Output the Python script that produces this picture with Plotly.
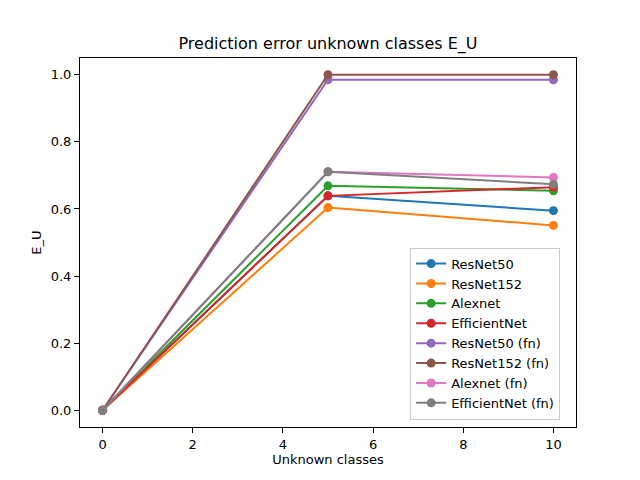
import plotly.graph_objects as go

x_vals = [0, 5, 10]

names = [
    "ResNet50",
    "ResNet152",
    "Alexnet",
    "EfficientNet",
    "ResNet50 (fn)",
    "ResNet152 (fn)",
    "Alexnet (fn)",
    "EfficientNet (fn)",
]

resnet50 = [0.0, 0.639, 0.595]
resnet152 = [0.0, 0.604, 0.551]
alexnet = [0.0, 0.669, 0.654]
efficientnet = [0.0, 0.639, 0.665]
resnet50_fn = [0.0, 0.985, 0.985]
resnet152_fn = [0.0, 1.0, 1.0]
alexnet_fn = [0.0, 0.711, 0.694]
efficientnet_fn = [0.0, 0.711, 0.674]

series = [
    resnet50,
    resnet152,
    alexnet,
    efficientnet,
    resnet50_fn,
    resnet152_fn,
    alexnet_fn,
    efficientnet_fn,
]

colors = [
    "#1f77b4",
    "#ff7f0e",
    "#2ca02c",
    "#d62728",
    "#9467bd",
    "#8c564b",
    "#e377c2",
    "#7f7f7f",
]

fig = go.Figure()
for name, y, c in zip(names, series, colors):
    fig.add_trace(
        go.Scatter(
            x=x_vals,
            y=y,
            mode="lines+markers",
            name=name,
            line=dict(color=c, width=2),
            marker=dict(color=c, size=9),
        )
    )

axis_style = dict(
    showline=True,
    linecolor="black",
    linewidth=1,
    mirror=True,
    ticks="outside",
    ticklen=5,
    tickcolor="black",
    showgrid=False,
    zeroline=False,
    automargin=False,
    tickfont=dict(size=13, color="black"),
)

# page body has an 8px margin, so the figure is a bit smaller than the window
fig.update_layout(
    width=632,
    height=472,
    paper_bgcolor="white",
    plot_bgcolor="white",
    font=dict(family="DejaVu Sans", color="black"),
    margin=dict(l=72, r=64, t=50, b=53),
    title=dict(
        text="Prediction error unknown classes E_U",
        x=0.5,
        xref="paper",
        xanchor="center",
        y=1 - 35 / 472,
        yref="container",
        yanchor="middle",
        font=dict(size=16),
    ),
    xaxis=dict(
        axis_style,
        range=[-0.5, 10.5],
        tickvals=[0, 2, 4, 6, 8, 10],
        title=dict(text="Unknown classes", font=dict(size=13), standoff=4),
    ),
    yaxis=dict(
        axis_style,
        range=[-0.05, 1.05],
        tickvals=[0, 0.2, 0.4, 0.6, 0.8, 1.0],
        tickformat=".1f",
        title=dict(text="E_U", font=dict(size=13), standoff=6),
    ),
    legend=dict(
        x=0.968,
        y=0.02,
        xanchor="right",
        yanchor="bottom",
        bgcolor="white",
        bordercolor="#cccccc",
        borderwidth=1,
        font=dict(size=13),
        tracegroupgap=0,
    ),
)

fig.write_html("out.html")
